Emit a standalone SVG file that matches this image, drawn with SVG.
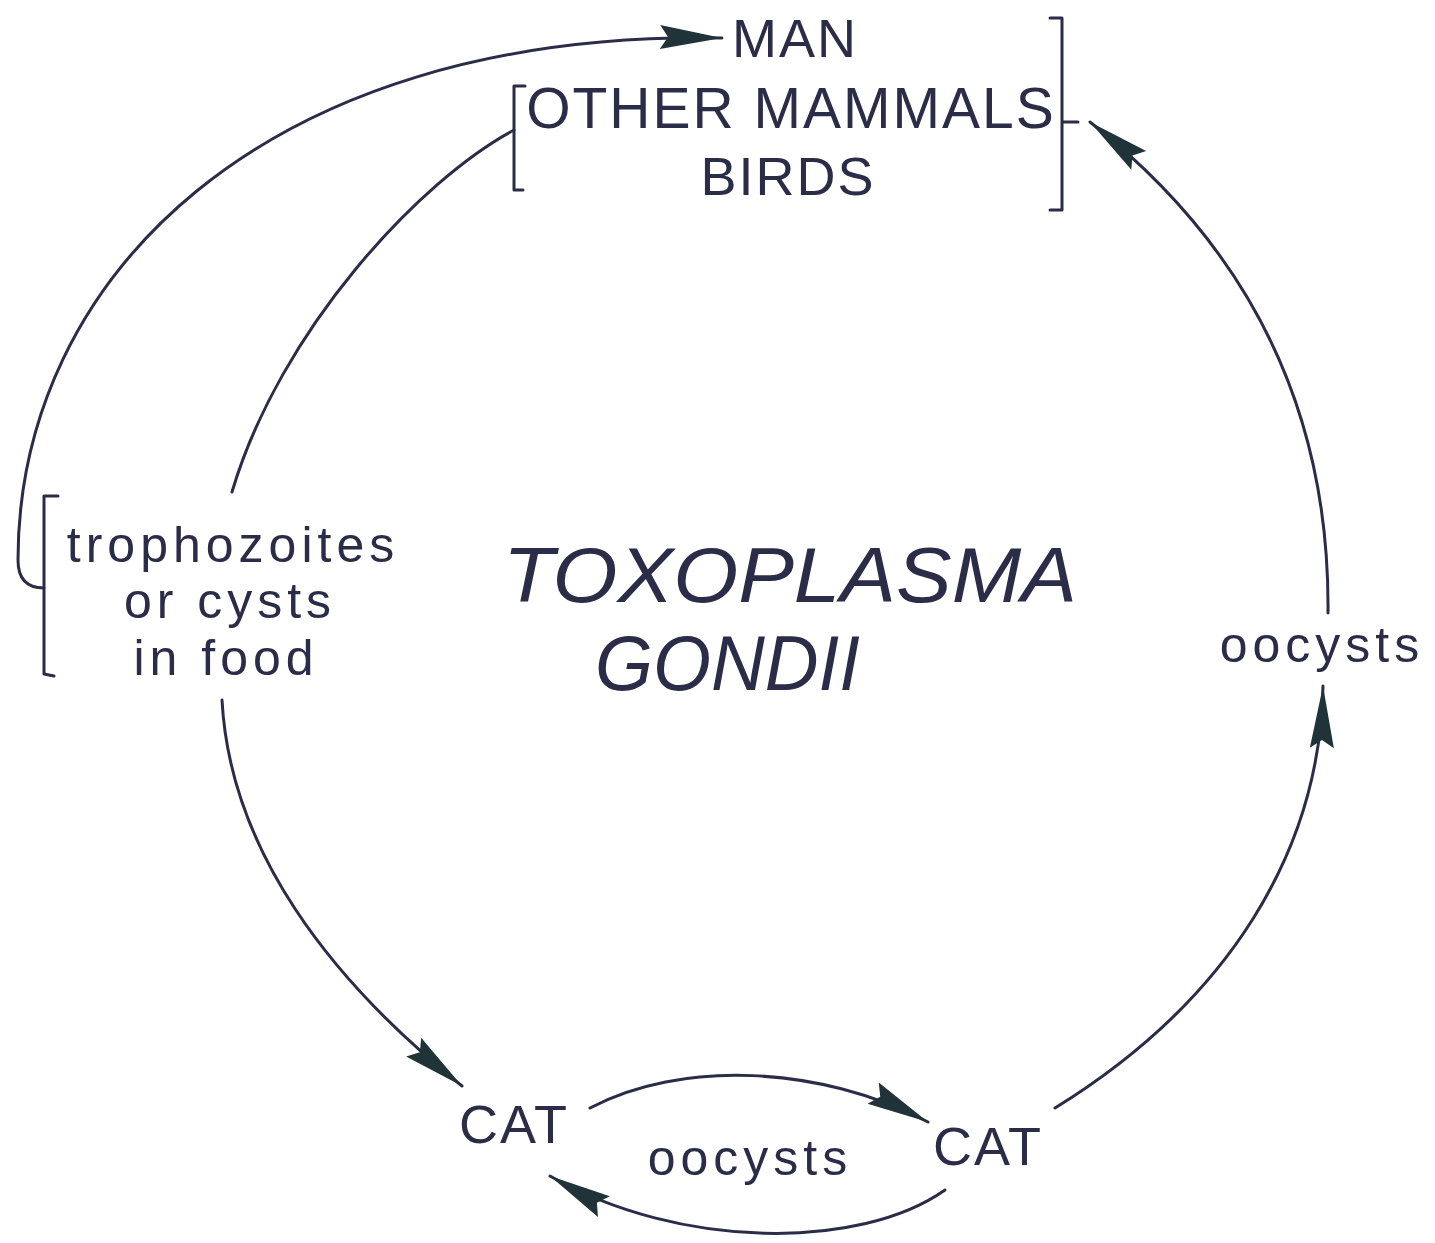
<svg xmlns="http://www.w3.org/2000/svg" width="1435" height="1243" viewBox="0 0 1435 1243">
<style>
.t{font-family:"Liberation Sans",Arial,sans-serif;fill:#2b2c48}
.cap{font-size:54px;letter-spacing:2px}
.lc{font-size:50px;letter-spacing:5px}
.title{font-size:78px;font-style:italic}
.ln{fill:none;stroke:#2b2c48;stroke-width:3;stroke-linecap:round}
.br{fill:none;stroke:#2b2c48;stroke-width:3;stroke-linejoin:round;stroke-linecap:round}
</style>
<defs>
<marker id="ah" markerUnits="userSpaceOnUse" viewBox="-66 -16 70 32" refX="0" refY="0" markerWidth="70" markerHeight="32" orient="auto">
<path d="M0,0 L-62,-12 L-54,0 L-62,12 Z" fill="#1f3338"/>
</marker>
</defs>
<rect width="1435" height="1243" fill="#ffffff"/>

<g id="hosts">
<text class="t cap" x="795" y="57" text-anchor="middle">MAN</text>
<text class="t cap" x="791" y="128" text-anchor="middle" style="font-size:57px">OTHER MAMMALS</text>
<text class="t cap" x="788" y="195" text-anchor="middle">BIRDS</text>
<path class="br" d="M525,86 L514,86 L514,190 L523,190"/>
<path class="br" d="M1050,18 L1062,18 L1062,210 L1050,210 M1062,122 L1078,122"/>
</g>

<g id="food">
<text class="t lc" x="233" y="562" text-anchor="middle">trophozoites</text>
<text class="t lc" x="230" y="618" text-anchor="middle">or cysts</text>
<text class="t lc" x="226" y="675" text-anchor="middle">in food</text>
<path class="br" d="M58,496 L44,496 L44,674 L54,676"/>
</g>

<g id="title">
<text class="t title" x="503" y="602" textLength="574" lengthAdjust="spacingAndGlyphs">TOXOPLASMA</text>
<text class="t title" x="595" y="690" textLength="265" lengthAdjust="spacingAndGlyphs">GONDII</text>
</g>

<g id="oocysts-right">
<text class="t lc" x="1322" y="662" text-anchor="middle">oocysts</text>
</g>

<g id="cat-left">
<text class="t cap" x="514" y="1143" text-anchor="middle">CAT</text>
</g>

<g id="oocysts-bottom">
<text class="t lc" x="750" y="1175" text-anchor="middle">oocysts</text>
</g>

<g id="cat-right">
<text class="t cap" x="988" y="1165" text-anchor="middle">CAT</text>
</g>

<g id="connectors">
<path class="ln" d="M44,588 Q18,588 18,560 C18,280 260,30 722,38" marker-end="url(#ah)"/>
<path class="ln" d="M514,130 C420,180 280,330 232,492"/>
<path class="ln" d="M222,700 C230,850 330,980 462,1086" marker-end="url(#ah)"/>
<path class="ln" d="M590,1108 C680,1060 820,1065 928,1122" marker-end="url(#ah)"/>
<path class="ln" d="M945,1190 C860,1250 680,1250 550,1176" marker-end="url(#ah)"/>
<path class="ln" d="M1055,1108 C1230,1000 1320,850 1323,686" marker-end="url(#ah)"/>
<path class="ln" d="M1328,613 C1330,400 1240,240 1090,122" marker-end="url(#ah)"/>
</g>
</svg>
